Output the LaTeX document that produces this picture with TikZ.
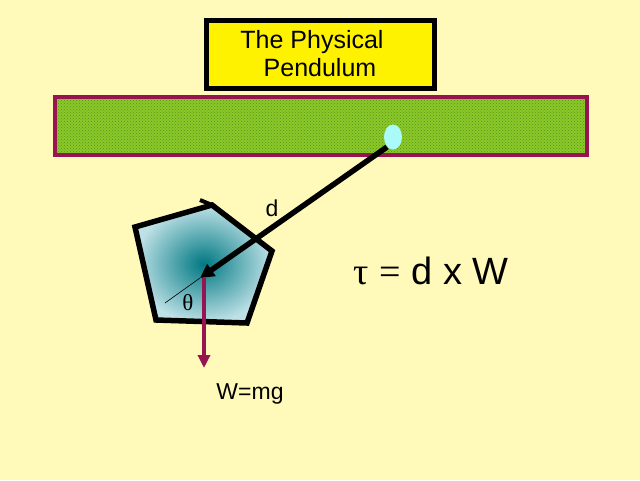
\documentclass[tikz,border=0pt]{standalone}
\usepackage{fontspec}
\setmainfont{Liberation Sans}
\newfontfamily\symf{Liberation Serif}
\usetikzlibrary{patterns,arrows.meta,shapes.geometric}
\definecolor{bg}{RGB}{255,250,185}
\definecolor{barg}{RGB}{140,200,40}
\definecolor{bargd}{RGB}{80,150,30}
\definecolor{maroon}{RGB}{150,20,80}
\definecolor{thin}{RGB}{100,20,90}
\definecolor{piv}{RGB}{170,250,250}
\definecolor{teal1}{RGB}{0,120,130}
\definecolor{teal2}{RGB}{190,225,230}
\begin{document}
\begin{tikzpicture}[x=1pt,y=-1pt,
  lbl/.style={font=\fontsize{23}{26}\selectfont,inner sep=0pt}]
\fill[bg] (0,0) rectangle (640,480);
\useasboundingbox (0,0) rectangle (640,480);
\node[draw=black,line width=5pt,fill=yellow,minimum width=228pt,minimum height=68pt,align=center,font=\fontsize{25}{28}\selectfont] (title) at (320,54) {\hspace*{-16pt}The Physical\\ Pendulum};
\fill[barg] (55,97) rectangle (587,155);
\fill[pattern=crosshatch dots,pattern color=bargd] (55,97) rectangle (587,155);
\draw[maroon,line width=4pt] (55,97) rectangle (587,155);
\node[ellipse,fill=piv,minimum width=18pt,minimum height=25pt,inner sep=0pt] (pivot) at (393,137) {};
\shade[inner color=teal1,outer color=teal2,draw=black,line width=5.5pt]
 (135,227) -- (212,205) -- (272,251) -- (247,323) -- (156,320) -- cycle;
\draw[line width=4pt] (200,200) -- (212,205);
\coordinate (cm) at (200,278);
\draw[thin,line width=0.6pt] (cm) -- (165,303);
\draw[line width=5.5pt,-{Triangle[length=14pt,width=14pt]}] (387,147) -- (cm);
\draw[maroon,line width=3.5pt,-{Triangle[length=13pt,width=12pt]}] (204,278) -- (204,368);
\node[lbl] (d) at (272,208) {d};
\node[lbl] (th) at (188,303) {\symf θ};
\node[lbl] (w) at (250,394) {W=mg};
\node[font=\fontsize{38}{40}\selectfont,inner sep=0pt] (eq) at (431,271) {{\symf τ} {\symf =} d x W};
\end{tikzpicture}
\end{document}
